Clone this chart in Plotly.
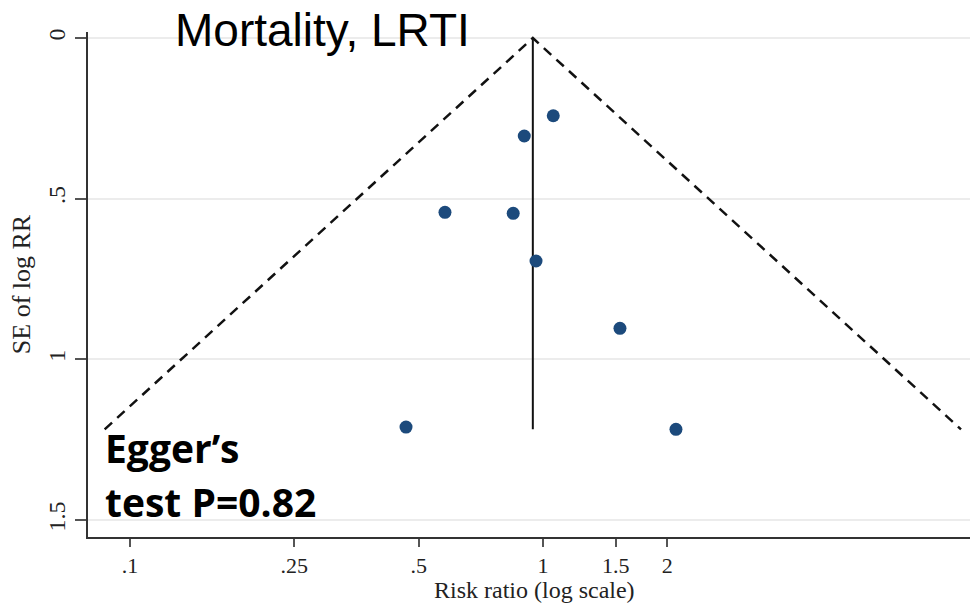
import numpy as np
import plotly.graph_objects as go

# Data
rr = [1.059, 0.901, 0.579, 0.847, 0.962, 1.536, 0.466, 2.099]
se = [0.242, 0.305, 0.5425, 0.5456, 0.694, 0.9035, 1.211, 1.218]
pooled_rr = 0.945
x_tickvals = [0.1, 0.25, 0.5, 1, 1.5, 2]
x_ticktext = [".1", ".25", ".5", "1", "1.5", "2"]
y_tickvals = [0, 0.5, 1, 1.5]
y_ticktext = ["0", ".5", "1", "1.5"]

se_max = max(se)
se_line = np.array([se_max, 0.0, se_max])
lo = pooled_rr * np.exp(-1.96 * se_max)
hi = pooled_rr * np.exp(1.96 * se_max)

fig = go.Figure()
fig.add_trace(go.Scatter(x=[lo, pooled_rr, hi], y=se_line, mode="lines",
                         line=dict(color="#111", width=2.5, dash="10px,7px"),
                         hoverinfo="skip", showlegend=False))
fig.add_trace(go.Scatter(x=[pooled_rr, pooled_rr], y=[0, se_max], mode="lines",
                         line=dict(color="#111", width=2),
                         hoverinfo="skip", showlegend=False))
fig.add_trace(go.Scatter(x=rr, y=se, mode="markers",
                         marker=dict(color="#1c4a7c", size=13),
                         showlegend=False))

L, R, T, B = 88, 3, 32, 69
W, H = 973, 606
pw = W - L - R
ph = H - T - B

def px_x(x):
    return (x - L) / pw

def px_y(y):
    return (H - B - y) / ph

serif = "Liberation Serif, Times New Roman, serif"
fig.update_layout(
    width=W, height=H,
    margin=dict(l=L, r=R, t=T, b=B),
    plot_bgcolor="white", paper_bgcolor="white",
    font=dict(family=serif, color="#222"),
    xaxis=dict(type="log", range=[-1.1017, 1.034],
               tickvals=x_tickvals, ticktext=x_ticktext,
               showgrid=False, zeroline=False,
               showline=True, linecolor="#333", linewidth=2,
               ticks="outside", ticklen=8, tickwidth=1.5, tickcolor="#555",
               tickfont=dict(family=serif, size=22, color="#222")),
    yaxis=dict(range=[1.553, -0.0187],
               tickvals=y_tickvals, ticktext=y_ticktext, tickangle=-90,
               showgrid=True, gridcolor="#ececec", gridwidth=1.5,
               zeroline=False,
               showline=True, linecolor="#333", linewidth=2,
               ticks="outside", ticklen=11, tickwidth=1.5, tickcolor="#555",
               tickfont=dict(family=serif, size=24, color="#222"),
               title=dict(text="SE of log RR", standoff=6,
                          font=dict(family=serif, size=26, color="#222"))),
    annotations=[
        dict(text="Risk ratio (log scale)", xref="paper", yref="paper",
             x=px_x(534), y=px_y(590), xanchor="center", yanchor="middle",
             showarrow=False,
             font=dict(family=serif, size=24, color="#222")),
        dict(text="Mortality, LRTI", xref="paper", yref="paper",
             x=px_x(173), y=px_y(30), xanchor="left", yanchor="middle",
             showarrow=False,
             font=dict(family="Liberation Sans, Arial, sans-serif", size=46, color="black")),
        dict(text="<b>Egger’s</b>", xref="paper", yref="paper",
             x=px_x(103), y=px_y(447), xanchor="left", yanchor="middle",
             showarrow=False,
             font=dict(family="Open Sans, sans-serif", size=39, color="black")),
        dict(text="<b>test P=0.82</b>", xref="paper", yref="paper",
             x=px_x(103), y=px_y(502), xanchor="left", yanchor="middle",
             showarrow=False,
             font=dict(family="Open Sans, sans-serif", size=39, color="black")),
    ],
)

fig.write_html("out.html")
